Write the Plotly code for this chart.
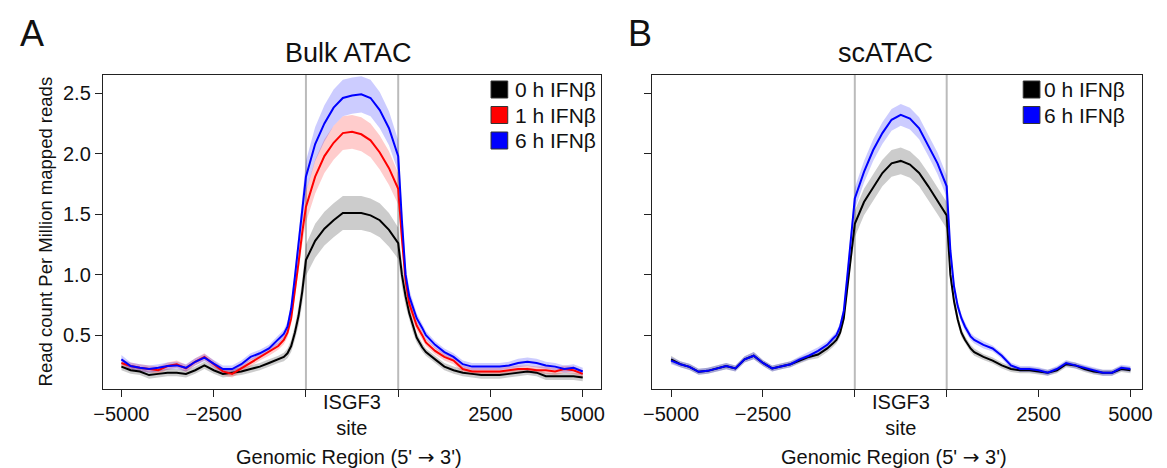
import plotly.graph_objects as go

# ---------------- data ----------------
x_pos = [-5000, -4750, -4500, -4250, -4000, -3750, -3500, -3250, -3000, -2750,
         -2500, -2250, -2000, -1750, -1500, -1250, -1000, -750, -600, -500,
         -400, -300, -200, -100,
         0, 250, 500, 750, 1000, 1250, 1500, 1750, 2000, 2250, 2500,
         2600, 2700, 2800, 2900, 3000, 3150, 3250, 3500, 3750, 4000,
         4250, 4500, 4750, 5000, 5250, 5500, 5750, 6000, 6250, 6500,
         6750, 7000, 7250, 7500]

bulk_0h = [0.24, 0.21, 0.20, 0.17, 0.18, 0.19, 0.19, 0.18, 0.21, 0.25,
           0.21, 0.18, 0.19, 0.20, 0.22, 0.24, 0.27, 0.30, 0.32, 0.35,
           0.41, 0.52, 0.66, 0.86,
           1.12, 1.28, 1.38, 1.45, 1.51, 1.51, 1.51, 1.49, 1.45, 1.37, 1.26,
           1.00, 0.82, 0.68, 0.57, 0.48, 0.40, 0.36, 0.30, 0.24, 0.21,
           0.19, 0.18, 0.17, 0.17, 0.17, 0.18, 0.19, 0.20, 0.19, 0.16,
           0.16, 0.16, 0.16, 0.15]
bulk_1h = [0.27, 0.245, 0.23, 0.22, 0.21, 0.245, 0.26, 0.225, 0.28, 0.32,
           0.26, 0.20, 0.18, 0.225, 0.27, 0.32, 0.36, 0.41, 0.46, 0.52,
           0.64, 0.86, 1.10, 1.35,
           1.56, 1.81, 1.98, 2.09, 2.17, 2.18, 2.16, 2.11, 2.01, 1.88, 1.71,
           1.30, 0.95, 0.76, 0.66, 0.58, 0.50, 0.44, 0.37, 0.32, 0.29,
           0.22, 0.20, 0.20, 0.20, 0.20, 0.21, 0.22, 0.22, 0.21, 0.21,
           0.20, 0.22, 0.21, 0.18]
bulk_6h = [0.30, 0.245, 0.23, 0.22, 0.23, 0.245, 0.25, 0.23, 0.28, 0.315,
           0.265, 0.22, 0.22, 0.26, 0.32, 0.35, 0.39, 0.46, 0.51, 0.57,
           0.72, 0.98, 1.25, 1.52,
           1.81, 2.08, 2.25, 2.38, 2.46, 2.48, 2.49, 2.46, 2.36, 2.21, 1.98,
           1.45, 1.00, 0.82, 0.72, 0.64, 0.56, 0.50, 0.42, 0.36, 0.32,
           0.26, 0.24, 0.24, 0.24, 0.24, 0.25, 0.27, 0.28, 0.27, 0.25,
           0.24, 0.22, 0.23, 0.20]

bulk_0h_se = [0.03, 0.03, 0.03, 0.03, 0.03, 0.03, 0.03, 0.03, 0.03, 0.03,
              0.03, 0.03, 0.03, 0.03, 0.03, 0.03, 0.03, 0.03, 0.035, 0.04,
              0.05, 0.06, 0.08, 0.10,
              0.13, 0.14, 0.14, 0.14, 0.14, 0.14, 0.14, 0.14, 0.14, 0.14, 0.13,
              0.10, 0.08, 0.06, 0.05, 0.04, 0.035, 0.03, 0.03, 0.03, 0.03,
              0.03, 0.03, 0.03, 0.03, 0.03, 0.03, 0.03, 0.03, 0.03, 0.03,
              0.03, 0.03, 0.03, 0.03]
bulk_1h_se = [0.03, 0.03, 0.03, 0.03, 0.03, 0.03, 0.03, 0.03, 0.03, 0.03,
              0.03, 0.03, 0.03, 0.03, 0.03, 0.03, 0.03, 0.03, 0.035, 0.04,
              0.05, 0.06, 0.08, 0.10,
              0.13, 0.14, 0.14, 0.14, 0.14, 0.14, 0.14, 0.14, 0.14, 0.14, 0.13,
              0.10, 0.08, 0.06, 0.05, 0.04, 0.035, 0.03, 0.03, 0.03, 0.03,
              0.03, 0.03, 0.03, 0.03, 0.03, 0.03, 0.03, 0.03, 0.03, 0.03,
              0.03, 0.03, 0.03, 0.03]
bulk_6h_se = [0.035, 0.03, 0.03, 0.03, 0.03, 0.03, 0.03, 0.03, 0.03, 0.03,
              0.03, 0.03, 0.03, 0.03, 0.03, 0.03, 0.03, 0.035, 0.035, 0.04,
              0.05, 0.06, 0.08, 0.10,
              0.13, 0.14, 0.15, 0.15, 0.15, 0.15, 0.15, 0.15, 0.15, 0.14, 0.13,
              0.10, 0.08, 0.06, 0.05, 0.04, 0.035, 0.035, 0.03, 0.03, 0.03,
              0.03, 0.03, 0.03, 0.03, 0.03, 0.03, 0.035, 0.035, 0.035, 0.03,
              0.03, 0.03, 0.03, 0.03]

sc_0h = [0.30, 0.26, 0.238, 0.197, 0.205, 0.225, 0.244, 0.225, 0.30, 0.33,
         0.27, 0.225, 0.244, 0.26, 0.29, 0.32, 0.34, 0.39, 0.43, 0.46,
         0.52, 0.64, 0.90, 1.18,
         1.42, 1.60, 1.72, 1.84, 1.92, 1.94, 1.91, 1.84, 1.73, 1.61, 1.49,
         1.00, 0.78, 0.63, 0.52, 0.46, 0.39, 0.36, 0.32, 0.29, 0.25,
         0.22, 0.21, 0.21, 0.20, 0.19, 0.21, 0.26, 0.25, 0.22, 0.20,
         0.19, 0.19, 0.22, 0.21]
sc_6h = [0.29, 0.26, 0.238, 0.197, 0.205, 0.225, 0.244, 0.225, 0.30, 0.33,
         0.27, 0.225, 0.244, 0.26, 0.30, 0.33, 0.37, 0.42, 0.47, 0.50,
         0.57, 0.70, 1.00, 1.32,
         1.63, 1.85, 2.03, 2.17, 2.28, 2.32, 2.29, 2.21, 2.07, 1.92, 1.73,
         1.20, 0.90, 0.74, 0.64, 0.57, 0.49, 0.46, 0.42, 0.39, 0.33,
         0.25, 0.22, 0.22, 0.21, 0.19, 0.22, 0.27, 0.25, 0.23, 0.21,
         0.19, 0.19, 0.23, 0.22]
sc_0h_se = [0.03, 0.025, 0.025, 0.025, 0.025, 0.025, 0.025, 0.025, 0.025, 0.03,
            0.025, 0.025, 0.025, 0.025, 0.025, 0.025, 0.03, 0.03, 0.03, 0.03,
            0.035, 0.04, 0.06, 0.08,
            0.11, 0.11, 0.11, 0.11, 0.11, 0.11, 0.11, 0.11, 0.11, 0.11, 0.11,
            0.07, 0.05, 0.04, 0.035, 0.03, 0.03, 0.03, 0.025, 0.025, 0.025,
            0.025, 0.025, 0.025, 0.025, 0.025, 0.025, 0.025, 0.025, 0.025, 0.025,
            0.025, 0.025, 0.025, 0.025]
sc_6h_se = [0.03, 0.025, 0.025, 0.025, 0.025, 0.025, 0.025, 0.025, 0.025, 0.03,
            0.025, 0.025, 0.025, 0.025, 0.025, 0.03, 0.03, 0.03, 0.03, 0.03,
            0.035, 0.04, 0.06, 0.08,
            0.09, 0.09, 0.09, 0.09, 0.09, 0.09, 0.09, 0.09, 0.09, 0.09, 0.09,
            0.07, 0.05, 0.04, 0.035, 0.035, 0.03, 0.03, 0.03, 0.025, 0.025,
            0.025, 0.025, 0.025, 0.025, 0.025, 0.025, 0.025, 0.025, 0.025, 0.025,
            0.025, 0.025, 0.025, 0.025]

x_tick_vals = [-5000, -2500, 0, 2500, 5000, 7500]
x_tick_text = ["\u22125000", "\u22122500", "", "", "2500", "5000"]
y_tick_vals = [0.5, 1.0, 1.5, 2.0, 2.5]
y_tick_text = ["0.5", "1.0", "1.5", "2.0", "2.5"]
site_bounds = [0, 2500]
site_label = "ISGF3<br>site"

bulk_series = [("0 h IFN\u03b2", bulk_0h, bulk_0h_se, "#000000", "rgba(0,0,0,0.2)"),
               ("1 h IFN\u03b2", bulk_1h, bulk_1h_se, "#FF0000", "rgba(255,0,0,0.2)"),
               ("6 h IFN\u03b2", bulk_6h, bulk_6h_se, "#0000FF", "rgba(0,0,255,0.2)")]
sc_series = [("0 h IFN\u03b2", sc_0h, sc_0h_se, "#000000", "rgba(0,0,0,0.2)"),
             ("6 h IFN\u03b2", sc_6h, sc_6h_se, "#0000FF", "rgba(0,0,255,0.2)")]

# ---------------- figure ----------------
W, H = 1167, 468
FONT = "Liberation Sans, Arial, Helvetica, sans-serif"
TXT = "#111"


def px(x):
    return x / W


def py(y):
    return 1 - y / H


fig = go.Figure()


def add_panel(series, xa, ya):
    for name, m, se, col, band in series:
        up = [a + b for a, b in zip(m, se)]
        lo = [a - b for a, b in zip(m, se)]
        fig.add_trace(go.Scatter(x=x_pos + x_pos[::-1], y=up + lo[::-1],
                                 fill="toself", fillcolor=band, line=dict(width=0),
                                 mode="lines", hoverinfo="skip", showlegend=False,
                                 xaxis=xa, yaxis=ya))
    for name, m, se, col, band in series:
        fig.add_trace(go.Scatter(x=x_pos, y=m, mode="lines", name=name,
                                 line=dict(color=col, width=2), showlegend=False,
                                 xaxis=xa, yaxis=ya))


add_panel(bulk_series, "x", "y")
add_panel(sc_series, "x2", "y2")

ydom = [py(389), py(75)]
axis_common = dict(showline=True, mirror=True, linecolor="#222", linewidth=1.3,
                   ticks="outside", ticklen=7, tickwidth=1.3, tickcolor="#222",
                   showgrid=False, zeroline=False,
                   tickfont=dict(family=FONT, size=20, color=TXT))
fig.update_layout(
    width=W, height=H, margin=dict(l=0, r=0, t=0, b=0),
    paper_bgcolor="white", plot_bgcolor="white", showlegend=False,
    xaxis=dict(domain=[px(95.5), px(602)], range=[-5500, 8000],
               tickvals=x_tick_vals, ticktext=x_tick_text, **axis_common),
    yaxis=dict(domain=ydom, range=[0.055, 2.65], tickvals=y_tick_vals,
               ticktext=y_tick_text, **axis_common),
    xaxis2=dict(domain=[px(654), px(1152)], range=[-5509, 7821], anchor="y2",
                tickvals=x_tick_vals, ticktext=x_tick_text, **axis_common),
    yaxis2=dict(domain=ydom, range=[0.055, 2.65], anchor="x2", tickvals=y_tick_vals,
                showticklabels=False, **axis_common),
)


def note(text, x, y, size, xanchor="center", yanchor="middle", xref="paper", **kw):
    fig.add_annotation(xref=xref, yref="paper", x=x, y=y, xanchor=xanchor,
                       yanchor=yanchor, text=text, showarrow=False,
                       font=dict(family=FONT, size=size, color=TXT), **kw)


# site boundary lines and site label
for xr, yr in (("x", "y domain"), ("x2", "y2 domain")):
    for b in site_bounds:
        fig.add_shape(type="line", xref=xr, yref=yr, x0=b, x1=b, y0=0, y1=1,
                      line=dict(color="#BBBBBB", width=2), layer="below")
    mid = (site_bounds[0] + site_bounds[1]) / 2
    note(site_label, mid, py(415), 20, xref=xr)

# panel letters and titles
note("A", px(23), py(34), 36)
note("B", px(641), py(34), 36)
note("Bulk ATAC", px(345), py(53), 27)
note("scATAC", px(891), py(53), 27)

# axis titles
xtitle = "Genomic Region (5' <span style='font-family:DejaVu Sans'>\u2192</span> 3')"
note(xtitle, px(346), py(457), 20)
note(xtitle, px(900), py(457), 20)
note("Read count Per Million mapped reads", px(37), py(231), 18.5, textangle=-90)


# legends (key squares + labels)
def add_legend(series, box_x, text_x, y_start, step):
    for i, (name, m, se, col, band) in enumerate(series):
        yc = y_start + i * step
        fig.add_shape(type="rect", xref="paper", yref="paper",
                      x0=px(box_x), x1=px(box_x + 17), y0=py(yc - 8.5), y1=py(yc + 8.5),
                      fillcolor=col, line=dict(color="#333", width=1))
        note(name, px(text_x), py(yc), 21, xanchor="left")


add_legend(bulk_series, 490, 512, 89.5, 25.5)
add_legend(sc_series, 1031, 1050, 89.5, 25.5)

fig.write_html("out.html")
